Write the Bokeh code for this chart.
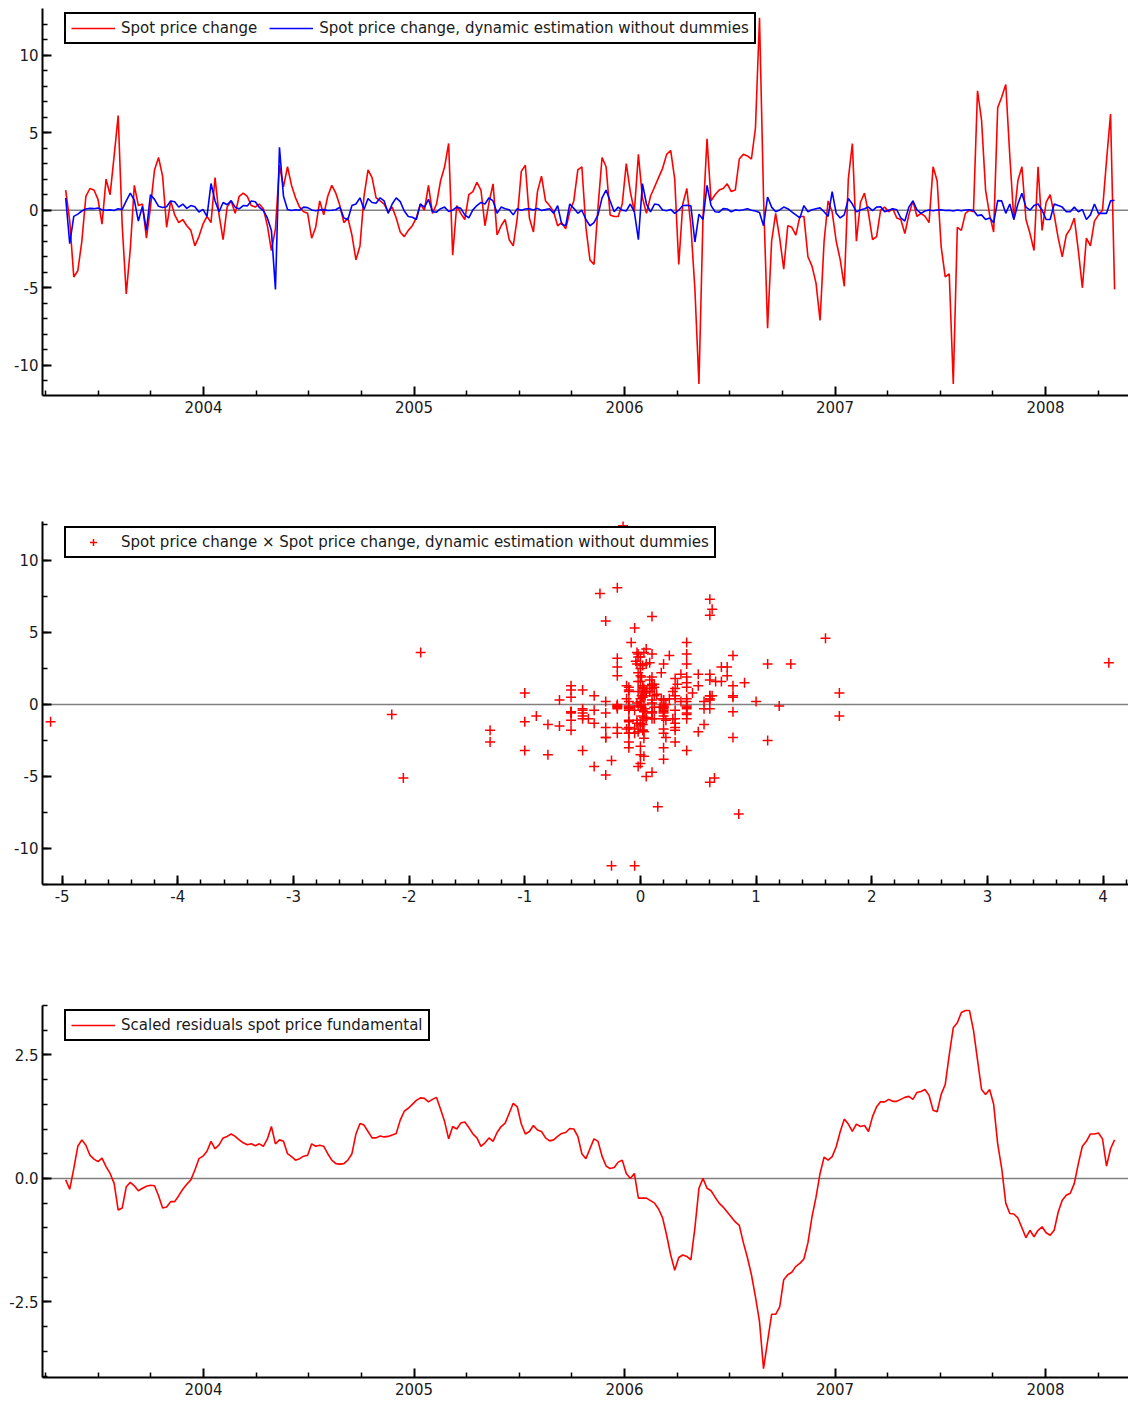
import numpy as np
import pandas as pd
from bokeh.plotting import figure
from bokeh.layouts import column
from bokeh.models import Range1d, FixedTicker, Span, PrintfTickFormatter
from bokeh.embed import file_html
from bokeh.resources import INLINE

# ---------------- data (weekly) ----------------
start_date = "2003-05-07"

spot_change = [
    1.3, -0.7, -4.3, -3.9, -2.0, 0.9, 1.4, 1.3, 0.7, -0.9,
    2.0, 1.0, 3.5, 6.1, -1.0, -5.4, -2.5, 1.6, 0.3, 0.4,
    -1.8, 0.2, 2.6, 3.4, 2.2, -1.1, 0.6, -0.3, -0.8, -0.6,
    -1.0, -1.3, -2.3, -1.7, -0.9, -0.4, -0.8, 2.1, -0.3, -1.9,
    0.2, 0.6, -0.2, 0.9, 1.1, 0.9, 0.3, 0.2, 0.4, 0.1,
    -1.0, -2.6, -1.2, 2.9, 1.5, 2.8, 1.6, 0.8, 0.2, -0.1,
    -0.2, -1.8, -1.1, 0.6, -0.3, 0.9, 1.6, 1.1, 0.3, -0.8,
    -0.5, -1.6, -3.2, -2.3, 0.9, 2.6, 2.1, 0.8, 0.6, 0.4,
    -0.1, 0.2, -0.5, -1.4, -1.7,
    -1.3, -1.0, -0.5, 0.4, 0.0, 1.6, -0.2, 0.4, 1.9, 2.8,
    4.3, -2.9, 0.3, -0.2, -0.6, 1.0, 1.2, 1.8, 1.3, -1.0,
    0.5, 1.7, -1.6, -1.0, -0.6, -1.9, -2.3, -0.5, 2.5, 2.9,
    -0.5, -1.4, 1.2, 2.2, 0.6, 0.3, -0.1, -1.0, -0.8, -1.2,
    -0.1, 0.6, 2.6, 2.8, -1.1, -3.2, -3.5, 0.2, 3.4, 2.8,
    -0.3, -0.4, -0.4, 0.4, 3.0, 1.2, -0.1, 3.6, 0.8, -0.2,
    0.9, 1.5, 2.1, 2.7, 3.6, 3.85, 2.0, -3.5, 0.4, 1.4,
    -1.0, -5.1, -11.2, -0.5, 4.6, 0.6, 1.0, 1.3, 1.4, 1.7,
    1.2, 1.3, 3.3, 3.6, 3.5, 3.3, 5.3,
    12.4, 0.8, -7.6, -2.0, -0.2, -1.8, -3.8, -1.0, -1.1, -1.6,
    -0.4, -0.4, -3.0, -3.6, -4.7, -7.1, -2.0, 0.6, -0.1, -2.0,
    -3.2, -4.9, 2.0, 4.3, -2.0, 0.5, 1.1, -0.2, -1.9, -1.7,
    0.0, 0.2, -0.1, 0.1, -0.5, -0.6, -1.5, -0.3, 0.6, -0.4,
    -0.2, -0.4, -0.8, 2.8, 1.9, -2.35, -4.3, -4.1, -11.2, -1.1,
    -1.3, -0.2, 0.0, -0.1, 7.7, 5.8, 1.3, -0.3, -1.4, 6.6,
    7.3, 8.1, 3.5, -0.6, 1.9, 2.8, -0.6, -1.5, -2.6, 2.8,
    -1.3, 0.5, 1.0, -0.3, -1.8, -3.0, -1.6, -1.2, -0.5, -2.6,
    -5.0, -1.8, -2.3, -0.7, -0.3, 0.0, 3.2, 6.2, -5.1,
]

dyn_estimation = [
    0.8, -2.15, -0.4, -0.25, -0.05, 0.08, 0.12, 0.1, 0.14, 0.03,
    0.0, 0.02, -0.02, 0.1, 0.05, 0.6, 1.1, 0.65, -0.7, 0.25,
    -1.3, 1.0, 0.7, 0.25, 0.18, 0.22, 0.6, 0.55, 0.2, 0.4,
    0.12, 0.3, 0.22, -0.12, 0.05, -0.4, 1.72, 0.6, -0.1, 0.5,
    0.35, 0.62, 0.2, 0.08, 0.3, 0.28, 0.6, 0.55, 0.18, -0.03,
    -0.5, -1.3, -5.1, 4.05, 0.9, 0.05, -0.02, 0.03, 0.0, 0.2,
    0.17, 0.02, -0.03, 0.01, 0.04, -0.02, 0.0, 0.03, 0.2, -0.5,
    -0.6, 0.3, 0.4, 0.8, 0.05, 0.75, 0.5, 0.45, 0.8, 0.6,
    -0.2, 0.4, 0.8, 0.55, -0.05,
    -0.4, -0.45, -0.6, 0.4, 0.2, 0.7, -0.1, -0.12, 0.1, 0.2,
    -0.08, 0.0, 0.2, 0.12, -0.3, -0.5, 0.02, 0.3, 0.5, 0.4,
    0.8, 0.6, -0.2, 0.2, 0.1, 0.03, -0.3, 0.1, 0.0, 0.08,
    0.1, 0.02, 0.12, -0.02, 0.04, 0.1, -0.2, 0.3, -0.9, -1.0,
    0.4, 0.12, -0.2, 0.0, -0.6, -1.0, -0.8, -0.3, 0.8, 1.3,
    0.6, -0.1, 0.2, 0.0, -0.04, 0.4, -0.1, -1.9, 1.72, 0.4,
    -0.1, 0.4, 0.35, 0.02, -0.03, 0.05, -0.2, 0.0, 0.3, 0.32,
    0.28, -2.05, -0.25, -0.6, 1.6, 0.3, -0.1, -0.12, 0.1, 0.08,
    -0.1, 0.02, -0.02, 0.03, 0.1, 0.0, -0.05,
    -0.15, -1.0, 0.85, 0.2, -0.1, 0.02, 0.2, 0.1, -0.1, -0.3,
    -0.5, 0.3, -0.1, 0.03, 0.1, 0.15, -0.1, -0.4, 1.2, -0.2,
    -0.5, -0.3, 0.75, 0.4, -0.1, 0.02, 0.1, 0.2, -0.02, 0.2,
    0.22, -0.1, 0.0, 0.1, 0.03, -0.5, -0.7, 0.2, 0.6, 0.02,
    -0.2, -0.05, 0.02, -0.03, 0.01, 0.03, -0.02, 0.0, -0.05, 0.02,
    -0.03, 0.01, 0.03, -0.02, -0.35, -0.3, -0.6, -0.5, -0.8, 0.62,
    0.6, -0.2, 0.4, -0.6, 0.4, 1.1, 0.2, 0.0, 0.3, 0.4,
    0.0, -0.6, -0.6, 0.4, 0.3, 0.2, -0.1, -0.1, 0.2, -0.1,
    0.05, -0.6, -0.3, 0.4, -0.2, -0.2, -0.2, 0.6, 0.64,
]

scaled_residuals = [
    -0.03, -0.22, 0.2, 0.65, 0.78, 0.67, 0.47, 0.39, 0.34, 0.41,
    0.24, 0.1, -0.1, -0.64, -0.6, -0.17, -0.08, -0.15, -0.25, -0.2,
    -0.16, -0.14, -0.15, -0.35, -0.6, -0.58, -0.47, -0.47, -0.35, -0.22,
    -0.12, -0.03, 0.17, 0.4, 0.45, 0.55, 0.75, 0.6, 0.68, 0.82,
    0.85, 0.9, 0.85, 0.78, 0.72, 0.68, 0.7, 0.66, 0.7, 0.65,
    0.8, 1.05, 0.7, 0.78, 0.75, 0.5, 0.44, 0.37, 0.4, 0.45,
    0.47, 0.7, 0.65, 0.67, 0.65, 0.5, 0.37, 0.3, 0.29, 0.3,
    0.37, 0.5, 0.9, 1.11, 1.08, 0.95, 0.82, 0.82, 0.86, 0.84,
    0.85, 0.88, 0.91, 1.18, 1.36, 1.42, 1.5, 1.58, 1.63, 1.62,
    1.55, 1.6, 1.64, 1.4, 1.15, 0.8, 1.05, 1.0, 1.12, 1.14,
    1.03, 0.9, 0.82, 0.65, 0.72, 0.82, 0.75, 0.93, 1.05, 1.12,
    1.32, 1.52, 1.45, 1.1, 0.9, 0.95, 1.07, 0.98, 0.95, 0.82,
    0.76, 0.78, 0.85, 0.91, 0.93, 1.01, 1.0, 0.85, 0.5, 0.4,
    0.6, 0.8, 0.75, 0.45, 0.25, 0.2, 0.22, 0.33, 0.37, 0.1,
    0.0, 0.1, -0.4, -0.4, -0.4, -0.45, -0.5, -0.62, -0.8, -1.15,
    -1.55, -1.86, -1.6, -1.55, -1.58, -1.65, -1.0, -0.2, 0.0, -0.2,
    -0.25, -0.38, -0.5, -0.58, -0.68, -0.78, -0.88, -0.95, -1.3, -1.6,
    -1.95, -2.4, -2.9, -3.85, -3.3, -2.75, -2.75, -2.6, -2.05, -1.95,
    -1.9, -1.78, -1.72, -1.63, -1.3, -0.78, -0.38, 0.1, 0.43, 0.37,
    0.44, 0.64, 0.95, 1.2, 1.1, 0.95, 1.1, 1.05, 1.07, 0.95,
    1.25, 1.45, 1.55, 1.55, 1.6, 1.56, 1.56, 1.6, 1.64, 1.66,
    1.6, 1.74, 1.76, 1.8, 1.68, 1.38, 1.35, 1.7, 1.9, 2.5,
    3.05, 3.15, 3.36, 3.4, 3.4, 3.0, 2.4, 1.8, 1.7, 1.8,
    1.5, 0.7, 0.2, -0.5, -0.71, -0.72, -0.8, -1.0, -1.2, -1.05,
    -1.18, -1.05, -0.98, -1.1, -1.15, -1.05, -0.68, -0.44, -0.34, -0.3,
    -0.1, 0.3, 0.65, 0.75, 0.9, 0.9, 0.92, 0.8, 0.25, 0.6,
    0.78,
]

year_ticks = [2004, 2005, 2006, 2007, 2008]
scatter_x_ticks = [-5, -4, -3, -2, -1, 0, 1, 2, 3, 4]
change_y_ticks = [-10, -5, 0, 5, 10]
resid_y_ticks = [-2.5, 0.0, 2.5]

label_red = "Spot price change"
label_blue = "Spot price change, dynamic estimation without dummies"
label_scatter = "Spot price change \u00d7 Spot price change, dynamic estimation without dummies"
label_resid = "Scaled residuals spot price fundamental"

# ---------------- helpers ----------------
dates = pd.date_range(start_date, periods=len(spot_change), freq="7D")
t = np.asarray(dates.year + (dates.dayofyear - 1) / np.where(dates.is_leap_year, 366, 365), dtype=float)

FONT = "DejaVu Sans"
quarters = [y + q for y in range(2003, 2009) for q in (0.25, 0.5, 0.75)]


def make_fig(height, top, bottom, xr, yr):
    p = figure(width=1128, height=height, output_backend="svg", toolbar_location=None,
               x_range=xr, y_range=yr,
               min_border_left=42, min_border_right=0,
               min_border_top=top, min_border_bottom=bottom)
    p.xgrid.visible = False
    p.ygrid.visible = False
    p.outline_line_color = None
    p.background_fill_color = "white"
    for ax in (p.xaxis[0], p.yaxis[0]):
        ax.axis_line_color = "black"
        ax.axis_line_width = 2
        ax.major_tick_in = 9
        ax.major_tick_out = 0
        ax.minor_tick_in = 5
        ax.minor_tick_out = 0
        ax.major_tick_line_color = "black"
        ax.major_tick_line_width = 2
        ax.minor_tick_line_color = "black"
        ax.minor_tick_line_width = 1.5
        ax.major_label_text_font = FONT
        ax.major_label_text_font_size = "15px"
        ax.major_label_text_color = "#1a1a1a"
        ax.formatter = PrintfTickFormatter(format="%d")
    p.xaxis[0].major_label_standoff = 5
    p.yaxis[0].major_label_standoff = 4
    p.add_layout(Span(location=0, dimension="width", line_color="#808080",
                      line_width=1.5, level="underlay"))
    return p


def style_legend(p, loc):
    lg = p.legend[0]
    lg.location = loc
    lg.orientation = "horizontal"
    lg.border_line_color = "black"
    lg.border_line_alpha = 1.0
    lg.border_line_width = 2
    lg.background_fill_color = "white"
    lg.background_fill_alpha = 1
    lg.label_text_font = FONT
    lg.label_text_font_size = "15px"
    lg.label_text_color = "#1a1a1a"
    lg.glyph_width = 44
    lg.glyph_height = 18
    lg.label_height = 18
    lg.padding = 5
    lg.spacing = 12
    lg.label_standoff = 6
    lg.margin = 0


# ---------------- panel 1 ----------------
p1 = make_fig(500, 8, 105, Range1d(2003.235, 2008.394), Range1d(-11.94, 13.0))
p1.line(t, spot_change, line_color="#ff0000", line_width=1.6, legend_label=label_red)
p1.line(t, dyn_estimation, line_color="#0000ff", line_width=1.6, legend_label=label_blue)
p1.xaxis[0].ticker = FixedTicker(ticks=year_ticks, minor_ticks=quarters)
p1.yaxis[0].ticker = FixedTicker(ticks=change_y_ticks, minor_ticks=list(range(-11, 13)))
style_legend(p1, (22, 351))

# ---------------- panel 2 ----------------
p2 = make_fig(490, 21, 106, Range1d(-5.17, 4.22), Range1d(-12.5, 12.7))
p2.scatter(dyn_estimation, spot_change, marker="cross", size=10, line_color="#ff0000",
           line_width=1.5, legend_label=label_scatter)
p2.xaxis[0].ticker = FixedTicker(ticks=scatter_x_ticks,
                                 minor_ticks=[round(v, 1) for v in np.arange(-5.2, 4.3, 0.2)])
p2.yaxis[0].ticker = FixedTicker(ticks=change_y_ticks,
                                 minor_ticks=[v for v in np.arange(-12.5, 12.6, 2.5)])
style_legend(p2, (22, 326))

# ---------------- panel 3 ----------------
p3 = make_fig(417, 15, 30, Range1d(2003.235, 2008.394), Range1d(-4.03, 3.5))
p3.line(t, scaled_residuals, line_color="#ff0000", line_width=1.6, legend_label=label_resid)
p3.xaxis[0].ticker = FixedTicker(ticks=year_ticks, minor_ticks=quarters)
p3.yaxis[0].ticker = FixedTicker(ticks=resid_y_ticks,
                                 minor_ticks=[v for v in np.arange(-4.0, 3.6, 0.5)])
p3.yaxis[0].formatter = PrintfTickFormatter(format="%.1f")
style_legend(p3, (22, 336))

layout = column(p1, p2, p3, spacing=0)
open("out.html", "w").write(file_html(layout, INLINE))
